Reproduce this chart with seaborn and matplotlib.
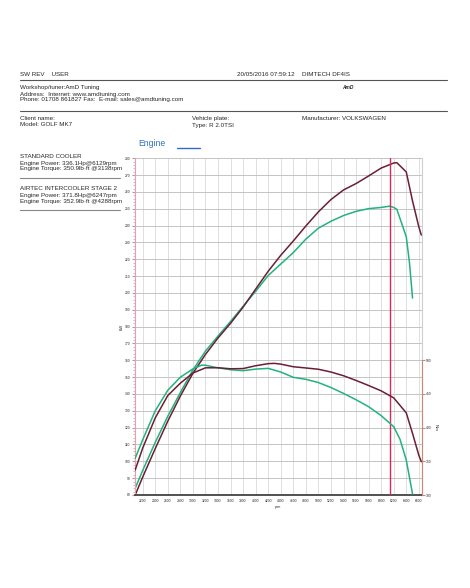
import numpy as np
import pandas as pd
import matplotlib
matplotlib.use("Agg")
import matplotlib.pyplot as plt
import seaborn as sns

# rpm / kW / Nm
std_power_rpm = [2080, 2200, 2400, 2600, 2800, 3000, 3200, 3400, 3600, 3800, 4000, 4200, 4400,
                 4600, 4800, 5000, 5200, 5400, 5600, 5800, 6000, 6140, 6200, 6250, 6400, 6450, 6500]
std_power_kw = [84.0, 94.6, 111.3, 126.8, 140.9, 154.3, 165.5, 174.4, 183.1, 192.1, 201.0, 210.4, 217.2,
                224.0, 232.0, 238.5, 242.6, 246.0, 248.5, 250.1, 250.8, 251.6, 250.8, 249.7, 233.4, 218.4, 197.0]

air_power_rpm = [2080, 2200, 2400, 2600, 2800, 3000, 3200, 3400, 3600, 3800, 4000, 4200, 4400,
                 4600, 4800, 5000, 5200, 5400, 5600, 5800, 6000, 6200, 6250, 6400, 6500, 6600, 6640]
air_power_kw = [80.0, 90.7, 107.6, 123.9, 138.8, 152.3, 163.5, 173.3, 182.0, 191.6, 202.3, 212.9, 222.4,
                230.9, 239.8, 248.2, 255.5, 261.2, 265.0, 269.5, 274.2, 277.2, 277.4, 271.9, 254.6, 239.3, 234.4]

std_torque_rpm = [2080, 2200, 2400, 2600, 2800, 3000, 3140, 3200, 3400, 3600, 3800, 4000, 4200, 4400,
                  4600, 4800, 5000, 5200, 5400, 5600, 5800, 6000, 6200, 6300, 6400, 6500]
std_torque_nm = [354.4, 381.9, 424.8, 455.2, 474.5, 486.8, 492.5, 492.2, 488.4, 485.6, 484.2, 486.5, 487.6, 482.2,
                 474.3, 471.4, 466.6, 459.2, 450.5, 441.1, 430.8, 417.6, 401.2, 382.6, 351.8, 301.5]

air_torque_rpm = [2080, 2200, 2400, 2600, 2800, 3000, 3200, 3400, 3600, 3800, 4000, 4200, 4300, 4400,
                  4600, 4800, 5000, 5200, 5400, 5600, 5800, 6000, 6200, 6400, 6500, 6600, 6640]
air_torque_nm = [337.0, 369.6, 414.3, 447.4, 465.7, 480.7, 488.4, 488.5, 487.0, 487.3, 491.5, 494.6, 495.0, 493.9,
                 490.0, 488.2, 486.3, 482.2, 476.7, 469.7, 462.2, 454.3, 443.9, 421.7, 391.2, 358.9, 349.3]

marker_rpm = 6140
rpm_ticks = list(range(2200, 6601, 200))
kw_ticks = list(range(80, 281, 10))
nm_ticks = [300, 350, 400, 450, 500]

col_std = "#22b27c"
col_air = "#6a1f35"
col_mark = "#d62a5e"

sns.set_style("white")
plt.rcParams["font.family"] = ["Liberation Sans", "DejaVu Sans"]

W, H = 470, 588
fig = plt.figure(figsize=(W / 100, H / 100), dpi=100)


def fx(x):
    return x / W


def fy(y):
    return 1 - y / H


def txt(x, y, s, size=4.5, **kw):
    fig.text(fx(x), fy(y), s, fontsize=size, va="center", ha=kw.pop("ha", "left"), **kw)


def hline(x0, x1, y, color="#555555", lw=0.8):
    fig.add_artist(plt.Line2D([fx(x0), fx(x1)], [fy(y), fy(y)], color=color, lw=lw,
                              transform=fig.transFigure))


# header block
txt(20, 75, "SW REV    USER")
txt(237, 75, "20/05/2016 07:59:12")
txt(302, 75, "DIMTECH DF4IS")
hline(20, 447, 80)
txt(20, 88, "Workshop/tuner:AmD Tuning")
txt(20, 94, "Address:  Internet: www.amdtuning.com")
txt(20, 100, "Phone: 01708 861827 Fax:  E-mail: sales@amdtuning.com")
txt(342, 88, "AmD", size=3.5, style="italic", weight="bold")
hline(20, 447, 111)
txt(20, 119, "Client name:")
txt(20, 125, "Model: GOLF MK7")
txt(192, 119, "Vehicle plate:")
txt(192, 125, "Type: R 2.0TSI")
txt(302, 119, "Manufacturer: VOLKSWAGEN")

txt(138, 143, "Engine", size=6.2, color="#2f6fc0")
hline(177, 200, 148, color="#2f6fc0", lw=1.0)

# legend block
txt(20, 157, "STANDARD COOLER")
txt(20, 163, "Engine Power: 336.1Hp@6129rpm")
txt(20, 169, "Engine Torque: 350.9lb\u00b7ft @3138rpm")
hline(20, 120, 178, color="#888888")
txt(20, 189, "AIRTEC INTERCOOLER STAGE 2")
txt(20, 195, "Engine Power: 371.8Hp@6247rpm")
txt(20, 201, "Engine Torque: 352.9lb\u00b7ft @4288rpm")
hline(20, 120, 210, color="#888888")

# chart
ax = fig.add_axes([fx(135), fy(495), fx(421.7) - fx(135), fy(158.3) - fy(495)])
ax2 = ax.twinx()

sns.lineplot(x=std_power_rpm, y=std_power_kw, ax=ax, color=col_std, lw=1.1)
sns.lineplot(x=air_power_rpm, y=air_power_kw, ax=ax, color=col_air, lw=1.1)
sns.lineplot(x=std_torque_rpm, y=std_torque_nm, ax=ax2, color=col_std, lw=1.1)
sns.lineplot(x=air_torque_rpm, y=air_torque_nm, ax=ax2, color=col_air, lw=1.1)
ax.axvline(marker_rpm, color=col_mark, lw=1.0, zorder=5)

ax.set_xlim(2077, 6646)
ax.set_ylim(80, 280)
ax2.set_ylim(300, 300 + 200 * 336.7 / 135)

ax.set_xticks(rpm_ticks)
ax.set_xticklabels([str(v) for v in rpm_ticks], fontsize=2.4)
ax.set_yticks(kw_ticks)
ax.set_yticklabels([str(v) for v in kw_ticks], fontsize=2.4)
ax.set_yticks(np.arange(80, 281, 2), minor=True)
ax2.set_yticks(nm_ticks)
ax2.set_yticklabels([str(v) for v in nm_ticks], fontsize=2.4)

ax.grid(True, axis="y", color="#c4c4c4", lw=0.7)
ax.grid(True, axis="x", color="#dedede", lw=0.7)
ax2.grid(False)
ax.tick_params(axis="x", length=1.5, pad=1.5, color="#333333")
ax.tick_params(axis="y", which="major", length=2, pad=1.5, color="#d58a9a")
ax.tick_params(axis="y", which="minor", length=1.2, color="#e3a6b3")
ax2.tick_params(axis="y", length=2, pad=1.2, color="#c88a70")

for a in (ax, ax2):
    a.spines["top"].set_visible(False)
ax.spines["left"].set_color("#e3a0b0")
ax.spines["left"].set_linewidth(0.8)
ax.spines["bottom"].set_color("#333333")
ax.spines["bottom"].set_linewidth(1.2)
ax.spines["right"].set_color("#cfcfcf")
ax2.spines["left"].set_visible(False)
ax2.spines["bottom"].set_visible(False)
ax2.spines["right"].set_color("#c88a70")
ax2.spines["right"].set_linewidth(0.8)
ax2.spines["right"].set_bounds(300, 500)

ax.set_xlabel("rpm", fontsize=2.6, labelpad=1)
ax.set_ylabel("")
ax2.set_ylabel("")
fig.text(fx(122), fy(327), "kW", fontsize=3.2, rotation=90, va="center", ha="center")
fig.text(fx(436), fy(427), "Nm", fontsize=3.2, rotation=-90, va="center", ha="center")

fig.savefig("out.png", dpi=100, facecolor="white")
